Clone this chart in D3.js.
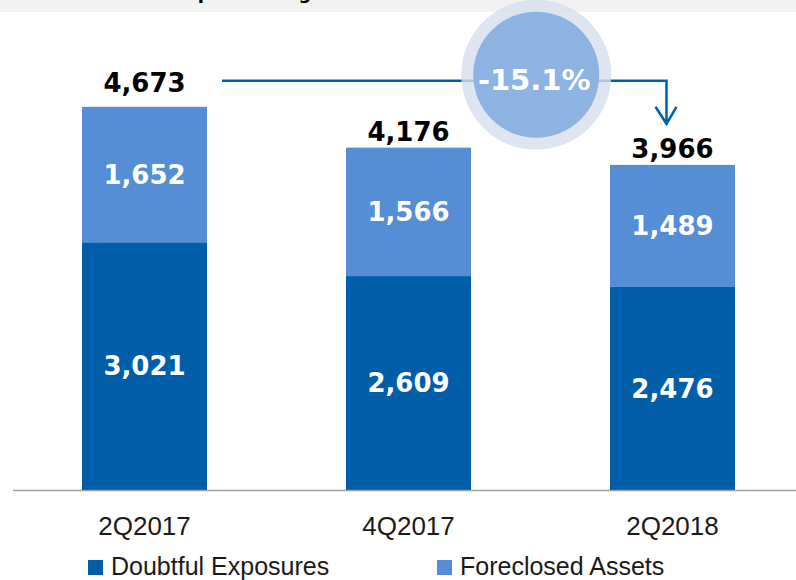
<!DOCTYPE html>
<html>
<head>
<meta charset="utf-8">
<script src="https://cdn.jsdelivr.net/npm/d3@7"></script>
<style>
  html, body { margin: 0; padding: 0; background: #fff; }
  svg { display: block; }
</style>
</head>
<body>
<svg id="svg"></svg>
<script>
const categories = ['2Q2017', '4Q2017', '2Q2018']
const doubtful = [3021, 2609, 2476]
const foreclosed = [1652, 1566, 1489]
const totals = [4673, 4176, 3966]
const seriesNames = ['Doubtful Exposures', 'Foreclosed Assets']
const title = 'Non-performing Assets'

var width = 796
var height = 580
var baseline = 490

const colors = d3.scaleOrdinal().domain(seriesNames).range(['#005ea8', '#558ed5'])
const format = d3.format(',d')
const pct = v => d3.format('.1%')(v).replace('\u2212', '-')

var data = categories.map((c, i) => ({
    name: c,
    'Doubtful Exposures': doubtful[i],
    'Foreclosed Assets': foreclosed[i],
    total: totals[i]
}))

var series = d3.stack().keys(seriesNames)(data)

var x = d3.scaleBand()
  .domain(categories)
  .range([12.5, 804.5])
  .paddingInner(0.5265)
  .paddingOuter(0.2633)

var y = d3.scaleLinear()
  .domain([0, 5000])
  .range([baseline, 80])

var svg = d3.select('#svg')
  .attr('width', width)
  .attr('height', height)
  .attr('viewBox', [0, 0, width, height])

// top band with the (mostly cut off) title
svg.append('rect')
  .attr('x', 0).attr('y', 0)
  .attr('width', width).attr('height', 12)
  .attr('fill', '#f2f2f2')
svg.append('text')
  .attr('x', 150).attr('y', -1)
  .attr('font-family', 'DejaVu Sans')
  .attr('font-weight', 'bold')
  .attr('font-size', 18)
  .attr('fill', '#000')
  .text(title)

// stacked bars
svg.append('g')
  .selectAll('g')
  .data(series)
  .join('g')
    .attr('fill', d => colors(d.key))
  .selectAll('rect')
  .data(d => d)
  .join('rect')
    .attr('x', d => x(d.data.name))
    .attr('y', d => y(d[1]))
    .attr('height', d => y(d[0]) - y(d[1]))
    .attr('width', x.bandwidth())

// segment labels
svg.append('g')
  .selectAll('g')
  .data(series)
  .join('g')
  .selectAll('text')
  .data(d => d)
  .join('text')
    .attr('x', d => x(d.data.name) + x.bandwidth() / 2)
    .attr('y', d => (y(d[0]) + y(d[1])) / 2)
    .attr('dy', '0.36em')
    .attr('text-anchor', 'middle')
    .attr('font-family', 'DejaVu Sans')
    .attr('font-weight', 'bold')
    .attr('font-size', 26)
    .attr('fill', '#fff')
    .text(d => format(d[1] - d[0]))

// change arrow from first to last total
var first = data[0], last = data[data.length - 1]
var arrowY = y(first.total) - 26
var x0 = x(first.name) + x.bandwidth() + 15
var x1 = x(last.name) + x.bandwidth() / 2 - 6
var tipY = y(last.total) - 41

// total labels
svg.append('g')
  .selectAll('text')
  .data(data)
  .join('text')
    .attr('x', d => x(d.name) + x.bandwidth() / 2)
    .attr('y', (d, i) => i === 0 ? arrowY + 11 : y(d.total) - 7)
    .attr('text-anchor', 'middle')
    .attr('font-family', 'DejaVu Sans')
    .attr('font-weight', 'bold')
    .attr('font-size', 26)
    .attr('fill', '#000')
    .text(d => format(d.total))

svg.append('path')
  .attr('d', `M${x0},${arrowY}H${x1}V${tipY}`)
  .attr('fill', 'none')
  .attr('stroke', '#005ea8')
  .attr('stroke-width', 2.5)
svg.append('path')
  .attr('d', `M${x1 - 11},${tipY - 17}L${x1},${tipY}L${x1 + 10},${tipY - 17}`)
  .attr('fill', 'none')
  .attr('stroke', '#005ea8')
  .attr('stroke-width', 2.5)

var cx = (x0 + x1) / 2 + 92
svg.append('circle')
  .attr('cx', cx).attr('cy', arrowY - 6)
  .attr('r', 75)
  .attr('fill', '#d6dfee')
  .attr('fill-opacity', 0.8)
svg.append('circle')
  .attr('cx', cx).attr('cy', arrowY - 6)
  .attr('r', 63)
  .attr('fill', '#8db3e2')

var change = (last.total - first.total) / first.total
svg.append('text')
  .attr('x', cx - 2).attr('y', arrowY + 9)
  .attr('text-anchor', 'middle')
  .attr('font-family', 'DejaVu Sans')
  .attr('font-weight', 'bold')
  .attr('font-size', 29)
  .attr('fill', '#fff')
  .text(pct(change))

// x axis
var xAxis = g => g
  .attr('transform', `translate(0,${baseline})`)
  .call(d3.axisBottom(x).tickSize(0).tickPadding(27))
  .call(g => g.select('.domain').attr('stroke', '#a0a0a0').attr('stroke-width', 1.5))
  .call(g => g.selectAll('text')
    .attr('font-family', 'Liberation Sans')
    .attr('font-size', 26)
    .attr('fill', '#1a1a1a'))

svg.append('g').call(xAxis)

// legend
var legendX = [88, 437]
var legend = svg.append('g')
  .selectAll('g')
  .data(seriesNames)
  .join('g')
    .attr('transform', (d, i) => `translate(${legendX[i]},560)`)
legend.append('rect')
  .attr('width', 15).attr('height', 15)
  .attr('fill', d => colors(d))
legend.append('text')
  .attr('x', 23).attr('y', 15)
  .attr('font-family', 'Liberation Sans')
  .attr('font-size', 25)
  .attr('fill', '#1a1a1a')
  .text(d => d)
</script>
</body>
</html>
